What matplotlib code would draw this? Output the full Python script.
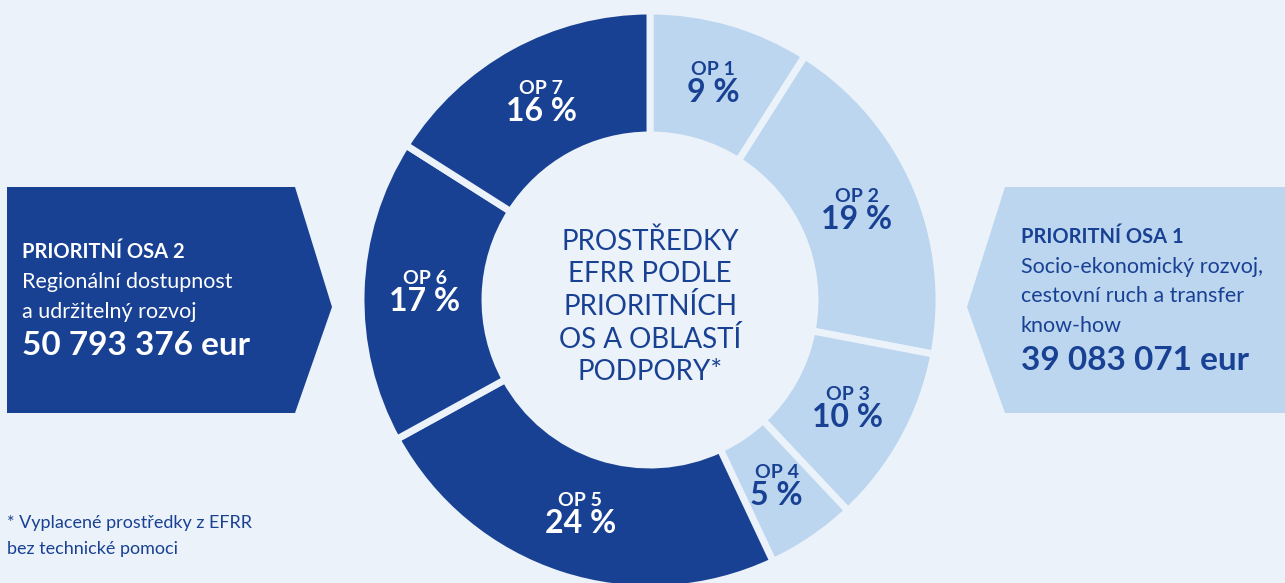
import matplotlib
matplotlib.use('Agg')
import matplotlib.pyplot as plt
from matplotlib.patches import Polygon
import numpy as np

plt.rcParams['font.family'] = ['Lato', 'DejaVu Sans']

# data
op_labels = ['OP 1', 'OP 2', 'OP 3', 'OP 4', 'OP 5', 'OP 6', 'OP 7']
op_shares = [9, 19, 10, 5, 24, 17, 16]
op_axis = [1, 1, 1, 1, 2, 2, 2]

center_lines = ['PROSTŘEDKY', 'EFRR PODLE', 'PRIORITNÍCH', 'OS A OBLASTÍ', 'PODPORY*']
axis1_title = 'PRIORITNÍ OSA 1'
axis1_lines = ['Socio-ekonomický rozvoj,', 'cestovní ruch a transfer', 'know-how']
axis1_amount = '39 083 071 eur'
axis2_title = 'PRIORITNÍ OSA 2'
axis2_lines = ['Regionální dostupnost', 'a udržitelný rozvoj']
axis2_amount = '50 793 376 eur'
footnote = ['* Vyplacené prostředky z EFRR', 'bez technické pomoci']

BG = '#EBF2FA'
DARK = '#194193'
LIGHT = '#BCD6F0'
axis_colors = {1: LIGHT, 2: DARK}
text_colors = {1: DARK, 2: 'white'}

W, H = 1285, 583
fig = plt.figure(figsize=(W / 100, H / 100), dpi=100, facecolor=BG)
ax = fig.add_axes([0, 0, 1, 1])
ax.set_facecolor(BG)

def Y(y_img):
    # picture rows go down, axes go up
    return H - y_img

# donut
cx, cy, R, ring = 650, Y(300), 289, 124
wedges, _ = ax.pie(op_shares, colors=[axis_colors[a] for a in op_axis],
                   startangle=90, counterclock=False, center=(cx, cy), radius=R,
                   wedgeprops=dict(width=ring, edgecolor=BG, linewidth=5))

for w, lab, share, a in zip(wedges, op_labels, op_shares, op_axis):
    mid = np.deg2rad((w.theta1 + w.theta2) / 2)
    x = cx + 0.78 * R * np.cos(mid)
    y = cy + 0.78 * R * np.sin(mid)
    ax.text(x, y + 14, lab, ha='center', va='center', fontsize=14,
            fontweight='bold', color=text_colors[a])
    ax.text(x, y - 9, f'{share} %', ha='center', va='center', fontsize=23,
            fontweight='bold', color=text_colors[a])

# centre title
for i, line in enumerate(center_lines):
    ax.text(650, Y(250 + i * 32.5), line, ha='center', va='baseline',
            fontsize=20, fontweight='normal', color=DARK)

# left arrow box (axis 2)
left_box = [(7, 187), (295, 187), (332, 307), (295, 413), (7, 413)]
ax.add_patch(Polygon([(x, Y(y)) for x, y in left_box], closed=True,
                     facecolor=DARK, edgecolor='none'))
ax.text(22, Y(258), axis2_title, fontsize=14.5, fontweight='bold', color='white', va='baseline')
for i, line in enumerate(axis2_lines):
    ax.text(22, Y(288 + i * 30), line, fontsize=15.5, color='white', va='baseline')
ax.text(22, Y(355), axis2_amount, fontsize=24, fontweight='bold', color='white', va='baseline')

# right arrow box (axis 1)
right_box = [(1005, 187), (1285, 187), (1285, 413), (1005, 413), (967, 307)]
ax.add_patch(Polygon([(x, Y(y)) for x, y in right_box], closed=True,
                     facecolor=LIGHT, edgecolor='none'))
ax.text(1021, Y(243), axis1_title, fontsize=14.5, fontweight='bold', color=DARK, va='baseline')
for i, line in enumerate(axis1_lines):
    ax.text(1021, Y(273 + i * 29.5), line, fontsize=15.5, color=DARK, va='baseline')
ax.text(1021, Y(370), axis1_amount, fontsize=24, fontweight='bold', color=DARK, va='baseline')

# footnote
for i, line in enumerate(footnote):
    ax.text(7, Y(528 + i * 26), line, fontsize=13, color=DARK, va='baseline')

ax.set_xlim(0, W)
ax.set_ylim(0, H)
ax.set_aspect('auto')
ax.axis('off')

fig.savefig('out.png', dpi=100, facecolor=BG)
